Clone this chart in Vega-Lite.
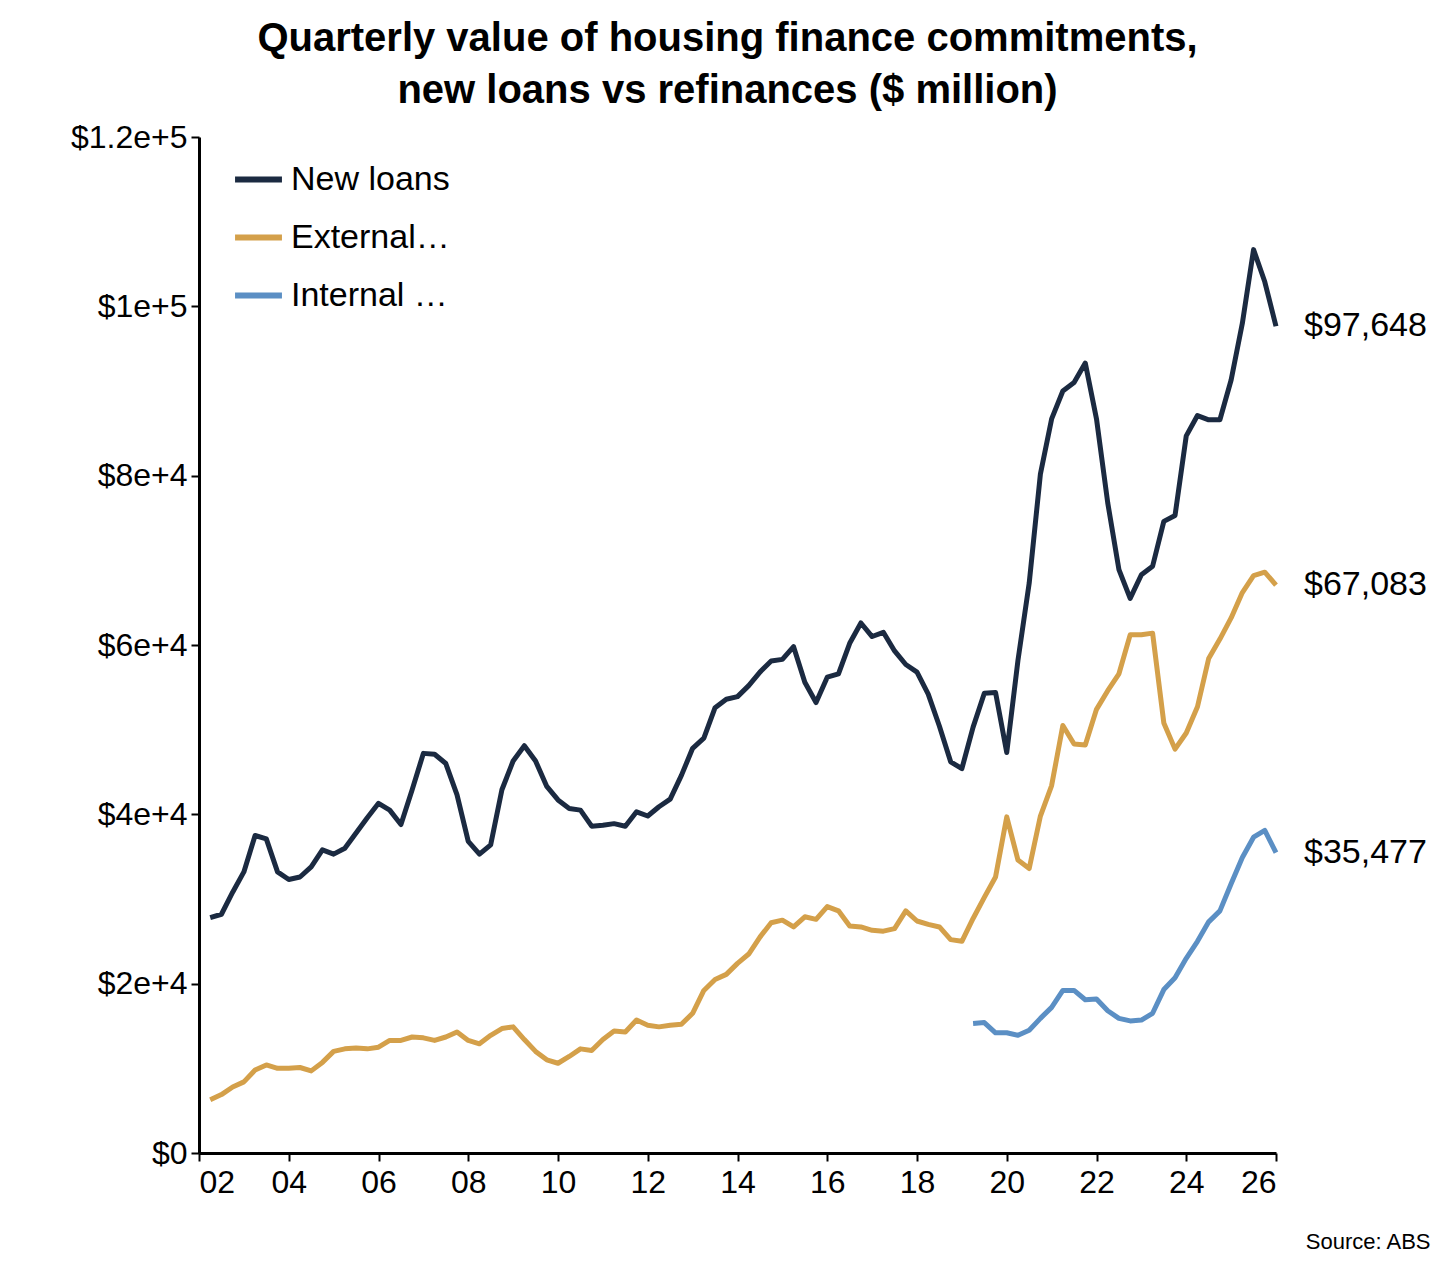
{
"$schema":"https://vega.github.io/schema/vega-lite/v6.json",
"autosize":"none","width":1077,"height":1016,
"padding":{"left":199,"top":137,"right":180,"bottom":127},
"background":"white",
"config":{"font":"Liberation Sans","view":{"stroke":null}},
"title":{"text":["Quarterly value of housing finance commitments,","new loans vs refinances ($ million)"],"fontSize":40,"fontWeight":"bold","color":"black","lineHeight":52,"offset":10,"dx":-10},
"datasets":{"d":[
{"x":2002.25,"s":"New loans","v":27800},{"x":2002.5,"s":"New loans","v":28200},{"x":2002.75,"s":"New loans","v":30800},{"x":2003.0,"s":"New loans","v":33200},
{"x":2003.25,"s":"New loans","v":37500},{"x":2003.5,"s":"New loans","v":37100},{"x":2003.75,"s":"New loans","v":33200},{"x":2004.0,"s":"New loans","v":32300},
{"x":2004.25,"s":"New loans","v":32600},{"x":2004.5,"s":"New loans","v":33800},{"x":2004.75,"s":"New loans","v":35800},{"x":2005.0,"s":"New loans","v":35300},
{"x":2005.25,"s":"New loans","v":36000},{"x":2005.5,"s":"New loans","v":37800},{"x":2005.75,"s":"New loans","v":39600},{"x":2006.0,"s":"New loans","v":41300},
{"x":2006.25,"s":"New loans","v":40500},{"x":2006.5,"s":"New loans","v":38800},{"x":2006.75,"s":"New loans","v":42900},{"x":2007.0,"s":"New loans","v":47200},
{"x":2007.25,"s":"New loans","v":47100},{"x":2007.5,"s":"New loans","v":46000},{"x":2007.75,"s":"New loans","v":42300},{"x":2008.0,"s":"New loans","v":36800},
{"x":2008.25,"s":"New loans","v":35300},{"x":2008.5,"s":"New loans","v":36400},{"x":2008.75,"s":"New loans","v":42900},{"x":2009.0,"s":"New loans","v":46300},
{"x":2009.25,"s":"New loans","v":48100},{"x":2009.5,"s":"New loans","v":46300},{"x":2009.75,"s":"New loans","v":43300},{"x":2010.0,"s":"New loans","v":41700},
{"x":2010.25,"s":"New loans","v":40700},{"x":2010.5,"s":"New loans","v":40500},{"x":2010.75,"s":"New loans","v":38600},{"x":2011.0,"s":"New loans","v":38700},
{"x":2011.25,"s":"New loans","v":38900},{"x":2011.5,"s":"New loans","v":38600},{"x":2011.75,"s":"New loans","v":40300},{"x":2012.0,"s":"New loans","v":39800},
{"x":2012.25,"s":"New loans","v":40900},{"x":2012.5,"s":"New loans","v":41800},{"x":2012.75,"s":"New loans","v":44600},{"x":2013.0,"s":"New loans","v":47800},
{"x":2013.25,"s":"New loans","v":49000},{"x":2013.5,"s":"New loans","v":52600},{"x":2013.75,"s":"New loans","v":53600},{"x":2014.0,"s":"New loans","v":53900},
{"x":2014.25,"s":"New loans","v":55200},{"x":2014.5,"s":"New loans","v":56800},{"x":2014.75,"s":"New loans","v":58100},{"x":2015.0,"s":"New loans","v":58300},
{"x":2015.25,"s":"New loans","v":59800},{"x":2015.5,"s":"New loans","v":55600},{"x":2015.75,"s":"New loans","v":53200},{"x":2016.0,"s":"New loans","v":56200},
{"x":2016.25,"s":"New loans","v":56600},{"x":2016.5,"s":"New loans","v":60200},{"x":2016.75,"s":"New loans","v":62600},{"x":2017.0,"s":"New loans","v":61000},
{"x":2017.25,"s":"New loans","v":61500},{"x":2017.5,"s":"New loans","v":59300},{"x":2017.75,"s":"New loans","v":57700},{"x":2018.0,"s":"New loans","v":56800},
{"x":2018.25,"s":"New loans","v":54200},{"x":2018.5,"s":"New loans","v":50400},{"x":2018.75,"s":"New loans","v":46200},{"x":2019.0,"s":"New loans","v":45400},
{"x":2019.25,"s":"New loans","v":50300},{"x":2019.5,"s":"New loans","v":54300},{"x":2019.75,"s":"New loans","v":54400},{"x":2020.0,"s":"New loans","v":47300},
{"x":2020.25,"s":"New loans","v":58200},{"x":2020.5,"s":"New loans","v":67300},{"x":2020.75,"s":"New loans","v":80200},{"x":2021.0,"s":"New loans","v":86700},
{"x":2021.25,"s":"New loans","v":90000},{"x":2021.5,"s":"New loans","v":91000},{"x":2021.75,"s":"New loans","v":93300},{"x":2022.0,"s":"New loans","v":86700},
{"x":2022.25,"s":"New loans","v":76800},{"x":2022.5,"s":"New loans","v":68900},{"x":2022.75,"s":"New loans","v":65500},{"x":2023.0,"s":"New loans","v":68300},
{"x":2023.25,"s":"New loans","v":69300},{"x":2023.5,"s":"New loans","v":74600},{"x":2023.75,"s":"New loans","v":75300},{"x":2024.0,"s":"New loans","v":84700},
{"x":2024.25,"s":"New loans","v":87100},{"x":2024.5,"s":"New loans","v":86600},{"x":2024.75,"s":"New loans","v":86600},{"x":2025.0,"s":"New loans","v":91300},
{"x":2025.25,"s":"New loans","v":98000},{"x":2025.5,"s":"New loans","v":106700},{"x":2025.75,"s":"New loans","v":102900},{"x":2026.0,"s":"New loans","v":97648},
{"x":2002.25,"s":"External refinances","v":6300},{"x":2002.5,"s":"External refinances","v":6900},{"x":2002.75,"s":"External refinances","v":7800},{"x":2003.0,"s":"External refinances","v":8400},
{"x":2003.25,"s":"External refinances","v":9800},{"x":2003.5,"s":"External refinances","v":10400},{"x":2003.75,"s":"External refinances","v":10000},{"x":2004.0,"s":"External refinances","v":10000},
{"x":2004.25,"s":"External refinances","v":10100},{"x":2004.5,"s":"External refinances","v":9700},{"x":2004.75,"s":"External refinances","v":10700},{"x":2005.0,"s":"External refinances","v":12000},
{"x":2005.25,"s":"External refinances","v":12300},{"x":2005.5,"s":"External refinances","v":12400},{"x":2005.75,"s":"External refinances","v":12300},{"x":2006.0,"s":"External refinances","v":12500},
{"x":2006.25,"s":"External refinances","v":13300},{"x":2006.5,"s":"External refinances","v":13300},{"x":2006.75,"s":"External refinances","v":13700},{"x":2007.0,"s":"External refinances","v":13600},
{"x":2007.25,"s":"External refinances","v":13300},{"x":2007.5,"s":"External refinances","v":13700},{"x":2007.75,"s":"External refinances","v":14300},{"x":2008.0,"s":"External refinances","v":13300},
{"x":2008.25,"s":"External refinances","v":12900},{"x":2008.5,"s":"External refinances","v":13900},{"x":2008.75,"s":"External refinances","v":14700},{"x":2009.0,"s":"External refinances","v":14900},
{"x":2009.25,"s":"External refinances","v":13400},{"x":2009.5,"s":"External refinances","v":12000},{"x":2009.75,"s":"External refinances","v":11000},{"x":2010.0,"s":"External refinances","v":10600},
{"x":2010.25,"s":"External refinances","v":11400},{"x":2010.5,"s":"External refinances","v":12300},{"x":2010.75,"s":"External refinances","v":12100},{"x":2011.0,"s":"External refinances","v":13400},
{"x":2011.25,"s":"External refinances","v":14400},{"x":2011.5,"s":"External refinances","v":14300},{"x":2011.75,"s":"External refinances","v":15700},{"x":2012.0,"s":"External refinances","v":15100},
{"x":2012.25,"s":"External refinances","v":14900},{"x":2012.5,"s":"External refinances","v":15100},{"x":2012.75,"s":"External refinances","v":15200},{"x":2013.0,"s":"External refinances","v":16500},
{"x":2013.25,"s":"External refinances","v":19200},{"x":2013.5,"s":"External refinances","v":20500},{"x":2013.75,"s":"External refinances","v":21100},{"x":2014.0,"s":"External refinances","v":22400},
{"x":2014.25,"s":"External refinances","v":23500},{"x":2014.5,"s":"External refinances","v":25500},{"x":2014.75,"s":"External refinances","v":27200},{"x":2015.0,"s":"External refinances","v":27500},
{"x":2015.25,"s":"External refinances","v":26700},{"x":2015.5,"s":"External refinances","v":27900},{"x":2015.75,"s":"External refinances","v":27600},{"x":2016.0,"s":"External refinances","v":29100},
{"x":2016.25,"s":"External refinances","v":28600},{"x":2016.5,"s":"External refinances","v":26800},{"x":2016.75,"s":"External refinances","v":26700},{"x":2017.0,"s":"External refinances","v":26300},
{"x":2017.25,"s":"External refinances","v":26200},{"x":2017.5,"s":"External refinances","v":26500},{"x":2017.75,"s":"External refinances","v":28600},{"x":2018.0,"s":"External refinances","v":27400},
{"x":2018.25,"s":"External refinances","v":27000},{"x":2018.5,"s":"External refinances","v":26700},{"x":2018.75,"s":"External refinances","v":25200},{"x":2019.0,"s":"External refinances","v":25000},
{"x":2019.25,"s":"External refinances","v":27700},{"x":2019.5,"s":"External refinances","v":30200},{"x":2019.75,"s":"External refinances","v":32600},{"x":2020.0,"s":"External refinances","v":39700},
{"x":2020.25,"s":"External refinances","v":34600},{"x":2020.5,"s":"External refinances","v":33600},{"x":2020.75,"s":"External refinances","v":39800},{"x":2021.0,"s":"External refinances","v":43400},
{"x":2021.25,"s":"External refinances","v":50500},{"x":2021.5,"s":"External refinances","v":48300},{"x":2021.75,"s":"External refinances","v":48200},{"x":2022.0,"s":"External refinances","v":52400},
{"x":2022.25,"s":"External refinances","v":54600},{"x":2022.5,"s":"External refinances","v":56600},{"x":2022.75,"s":"External refinances","v":61200},{"x":2023.0,"s":"External refinances","v":61200},
{"x":2023.25,"s":"External refinances","v":61400},{"x":2023.5,"s":"External refinances","v":50800},{"x":2023.75,"s":"External refinances","v":47700},{"x":2024.0,"s":"External refinances","v":49600},
{"x":2024.25,"s":"External refinances","v":52700},{"x":2024.5,"s":"External refinances","v":58400},{"x":2024.75,"s":"External refinances","v":60700},{"x":2025.0,"s":"External refinances","v":63200},
{"x":2025.25,"s":"External refinances","v":66200},{"x":2025.5,"s":"External refinances","v":68200},{"x":2025.75,"s":"External refinances","v":68600},{"x":2026.0,"s":"External refinances","v":67083},
{"x":2019.25,"s":"Internal refinances","v":15300},{"x":2019.5,"s":"Internal refinances","v":15400},{"x":2019.75,"s":"Internal refinances","v":14200},{"x":2020.0,"s":"Internal refinances","v":14200},
{"x":2020.25,"s":"Internal refinances","v":13900},{"x":2020.5,"s":"Internal refinances","v":14500},{"x":2020.75,"s":"Internal refinances","v":15900},{"x":2021.0,"s":"Internal refinances","v":17200},
{"x":2021.25,"s":"Internal refinances","v":19200},{"x":2021.5,"s":"Internal refinances","v":19200},{"x":2021.75,"s":"Internal refinances","v":18100},{"x":2022.0,"s":"Internal refinances","v":18200},
{"x":2022.25,"s":"Internal refinances","v":16800},{"x":2022.5,"s":"Internal refinances","v":15900},{"x":2022.75,"s":"Internal refinances","v":15600},{"x":2023.0,"s":"Internal refinances","v":15700},
{"x":2023.25,"s":"Internal refinances","v":16500},{"x":2023.5,"s":"Internal refinances","v":19300},{"x":2023.75,"s":"Internal refinances","v":20700},{"x":2024.0,"s":"Internal refinances","v":23000},
{"x":2024.25,"s":"Internal refinances","v":25000},{"x":2024.5,"s":"Internal refinances","v":27300},{"x":2024.75,"s":"Internal refinances","v":28600},{"x":2025.0,"s":"Internal refinances","v":31800},
{"x":2025.25,"s":"Internal refinances","v":34900},{"x":2025.5,"s":"Internal refinances","v":37300},{"x":2025.75,"s":"Internal refinances","v":38100},{"x":2026.0,"s":"Internal refinances","v":35477}
]},
"data":{"name":"d"},
"encoding":{
"x":{"field":"x","type":"quantitative","scale":{"domain":[2002,2026],"nice":false,"zero":false},
"axis":{"values":[2002,2004,2006,2008,2010,2012,2014,2016,2018,2020,2022,2024,2026],"labelExpr":"substring(toString(datum.value),2)","labelFontSize":32,"labelColor":"black","labelPadding":6,"grid":false,"domainColor":"black","domainWidth":3,"tickColor":"black","tickWidth":2,"tickSize":8,
"title":"Source: ABS","titleFontSize":22,"titleFontWeight":"normal","titleColor":"black","titleAnchor":"end","titleAlign":"right","titleBaseline":"bottom","titleX":1231,"titleY":100}},
"y":{"field":"v","type":"quantitative","scale":{"domain":[0,120000],"nice":false},
"axis":{"values":[0,20000,40000,60000,80000,100000,120000],"format":"$,","labelFontSize":32,"labelColor":"black","labelPadding":4,"grid":false,"domainColor":"black","domainWidth":3,"tickColor":"black","tickWidth":2,"tickSize":8,"title":null}}
},
"layer":[
{"mark":{"type":"line","strokeWidth":5,"strokeJoin":"round"},
"encoding":{"color":{"field":"s","type":"nominal","scale":{"domain":["New loans","External refinances","Internal refinances"],"range":["#1b2a41","#d4a04a","#5b8fc4"]},
"legend":{"title":null,"orient":"none","legendX":33,"legendY":16,"symbolType":"stroke","symbolSize":2200,"symbolStrokeWidth":6,"labelFontSize":34,"labelColor":"black","rowPadding":14,"labelOffset":6}}}},
{"transform":[{"filter":"datum.x == 2026"}],
"mark":{"type":"text","align":"left","dx":28,"fontSize":34,"color":"black"},
"encoding":{"text":{"field":"v","type":"quantitative","format":"$,"}}}
]
}
